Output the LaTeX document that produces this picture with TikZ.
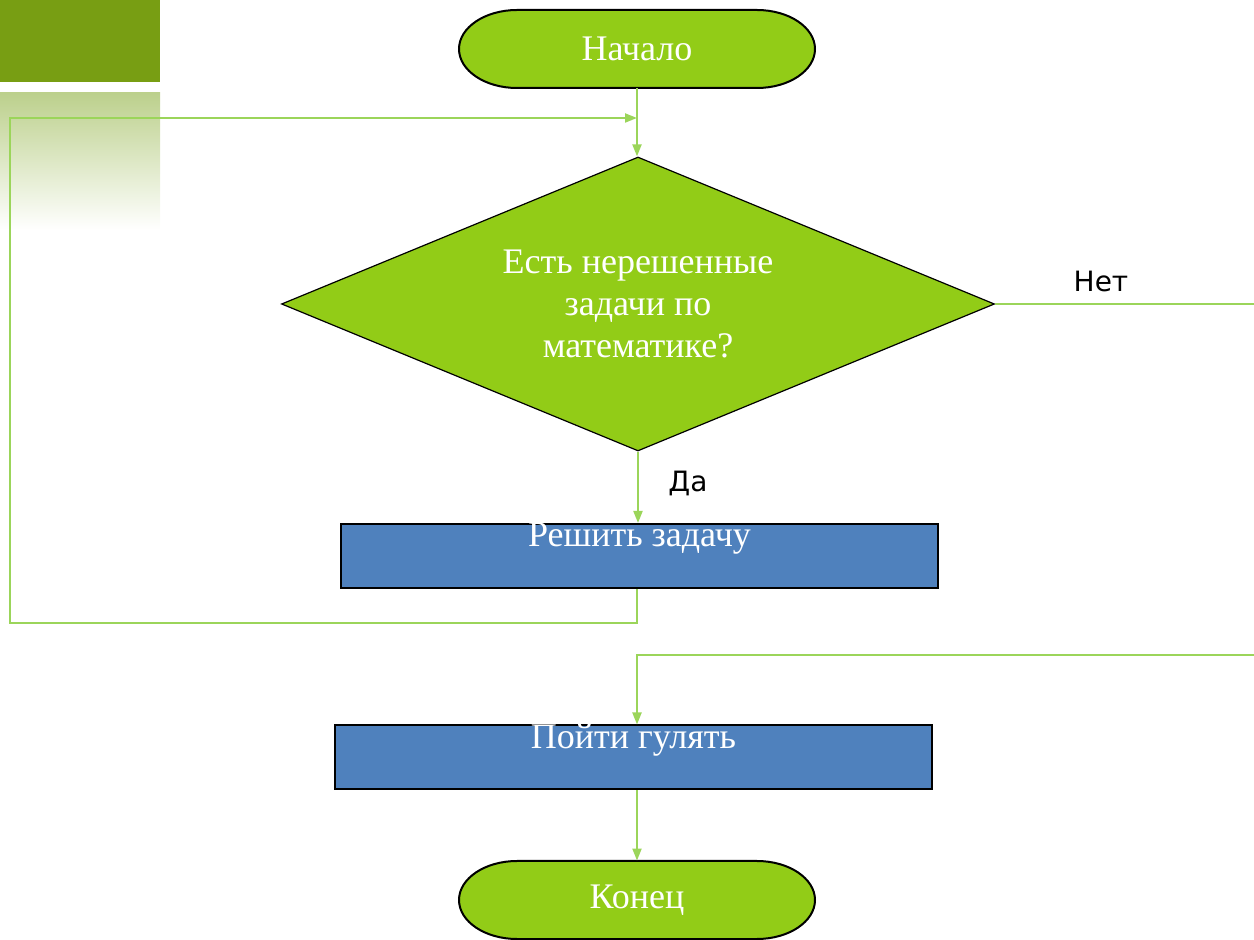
\documentclass[tikz,border=0pt]{standalone}
\usepackage{fontspec}
\setmainfont{Liberation Serif}
\newfontfamily\labelfont{DejaVu Sans}
\usetikzlibrary{shapes.geometric,arrows.meta}

\definecolor{leafgreen}{RGB}{146,204,23}
\definecolor{darkleaf}{RGB}{120,158,19}
\definecolor{paleleaf}{RGB}{188,208,140}
\definecolor{linkgreen}{RGB}{155,213,90}
\definecolor{taskblue}{RGB}{79,129,189}

\tikzset{
    terminal/.style={text=white, minimum width=178pt, minimum height=39pt,
        inner sep=0pt, font=\fontsize{18}{21}\selectfont},
    capsule/.style={draw=black, line width=1pt, fill=leafgreen},
    decision/.style={diamond, draw=black, line width=0.6pt, fill=leafgreen, text=white,
        aspect=2.43, minimum width=356.5pt, minimum height=147pt, inner sep=0pt,
        align=center, font=\fontsize{18}{21}\selectfont},
    task/.style={draw=black, line width=1pt, fill=taskblue,
        minimum width=298.5pt, minimum height=32pt, inner sep=0pt},
    tasktext/.style={anchor=base, yshift=-11.8pt, text=white, inner sep=0pt,
        font=\fontsize{18}{21}\selectfont},
    link/.style={draw=linkgreen, line width=1pt},
    arrow/.style={link, -{Triangle[length=6pt,width=4.5pt]}},
    answer/.style={font=\labelfont\fontsize{14}{16}\selectfont}
}

% start/end outline with elliptic ends
\newcommand{\capsuleat}[1]{%
    \path[capsule] (#1) ++(-60pt,19.5pt) -- ++(120pt,0)
        arc[start angle=90, end angle=-90, x radius=29pt, y radius=19.5pt]
        -- ++(-120pt,0)
        arc[start angle=270, end angle=90, x radius=29pt, y radius=19.5pt] -- cycle;}

\begin{document}
\begin{tikzpicture}[x=0.5pt, y=-0.5pt]
    \useasboundingbox (0,0) rectangle (1254,940);

    % corner decoration
    \fill[darkleaf] (0,0) rectangle (160,82);
    \shade[top color=paleleaf, bottom color=white] (0,93) rectangle (160,230);

    \capsuleat{637,49}
    \capsuleat{637,900}

    \node[terminal] (start) at (637,49) {Начало};
    \node[decision] (decide) at (638,304) {Есть нерешенные\\задачи по\\математике?};
    \node[task, label={[tasktext]north:Решить задачу}] (solve) at (639.5,556) {};
    \node[task, label={[tasktext]north:Пойти гулять}] (walk) at (633.5,757.5) {};
    \node[terminal] (finish) at (637,900) {Конец};

    \node[answer] (no) at (1101,281) {Нет};
    \node[answer] (yes) at (688,483) {Да};

    \coordinate (loopin) at (637,118);
    \coordinate (noout) at (1254,304);
    \coordinate (noin) at (1254,655);

    \draw[arrow] (start.south) -- (start.south |- decide.north);
    \draw[arrow] (decide.south) -- (decide.south |- solve.north);
    \draw[arrow] (solve.south -| loopin) -- ++(0,34) -| (10,118) -- (loopin);
    \draw[link] (decide.east) -- (noout);
    \draw[arrow] (noin) -| (walk.north -| loopin);
    \draw[arrow] (walk.south -| loopin) -- (finish.north);
\end{tikzpicture}
\end{document}
